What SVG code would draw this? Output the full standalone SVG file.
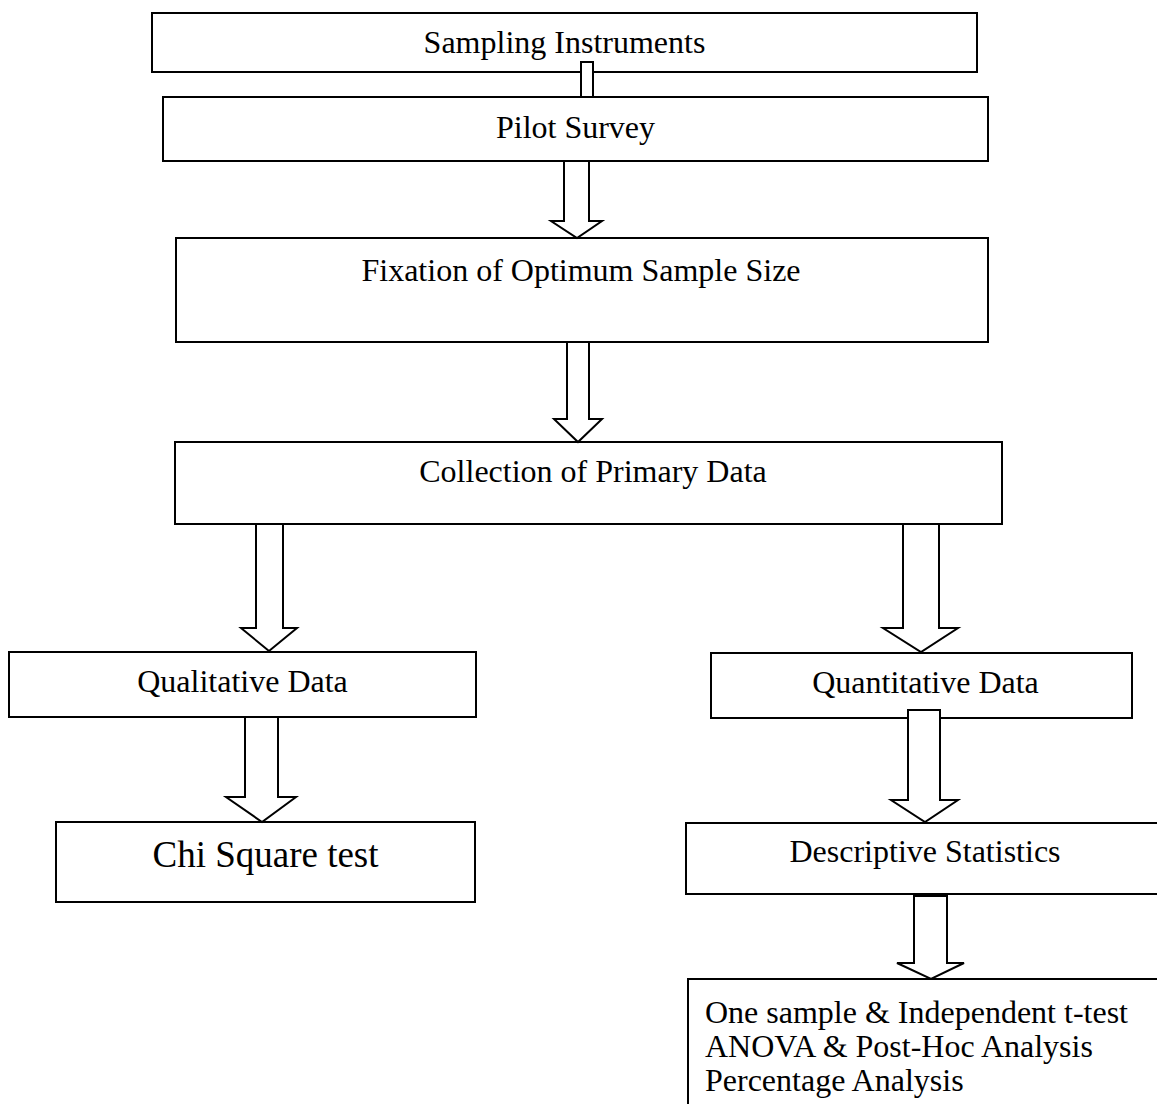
<svg xmlns="http://www.w3.org/2000/svg" width="1157" height="1104" viewBox="0 0 1157 1104">
<style>
.box{fill:#fff;stroke:#000;stroke-width:2}
.arr{fill:#fff;stroke:#000;stroke-width:2;stroke-linejoin:miter}
text{font-family:"Liberation Serif","Times New Roman",serif;font-size:32px;fill:#000}
.c{text-anchor:middle}
</style>
<rect width="1157" height="1104" fill="#fff"/>
<g id="sampling"><rect class="box" x="152" y="13" width="825" height="59"/><text class="c" x="564.5" y="53">Sampling Instruments</text></g>
<g id="pilot"><rect class="box" x="163" y="97" width="825" height="64"/><text class="c" x="575.5" y="138">Pilot Survey</text></g>
<g id="fixation"><rect class="box" x="176" y="238" width="812" height="104"/><text class="c" x="581" y="281">Fixation of Optimum Sample Size</text></g>
<g id="collection"><rect class="box" x="175" y="442" width="827" height="82"/><text class="c" x="593" y="482">Collection of Primary Data</text></g>
<g id="qualitative"><rect class="box" x="9" y="652" width="467" height="65"/><text class="c" x="242.5" y="692">Qualitative Data</text></g>
<g id="quantitative"><rect class="box" x="711" y="653" width="421" height="65"/><text class="c" x="925.5" y="693">Quantitative Data</text></g>
<g id="chi"><rect class="box" x="56" y="822" width="419" height="80"/><text class="c" x="265.5" y="867" style="font-size:37px">Chi Square test</text></g>
<g id="descriptive"><rect class="box" x="686" y="823" width="480" height="71"/><text class="c" x="925" y="862">Descriptive Statistics</text></g>
<g id="tests"><rect class="box" x="688" y="979" width="480" height="140"/>
<text x="705" y="1023">One sample &amp; Independent t-test</text>
<text x="705" y="1057">ANOVA &amp; Post-Hoc Analysis</text>
<text x="705" y="1091">Percentage Analysis</text></g>
<g id="connectors">
<rect class="arr" x="581" y="62" width="12" height="35"/>
<polygon class="arr" points="564,161 589,161 589,221 602,221 577,238 551,221 564,221"/>
<polygon class="arr" points="567,342 589,342 589,419 602,419 578,442 554,419 567,419"/>
<polygon class="arr" points="256,524 283,524 283,628 297,628 269,651 241,628 256,628"/>
<polygon class="arr" points="903,524 939,524 939,628 958,628 921,652 883,628 903,628"/>
<polygon class="arr" points="245,717 278,717 278,797 296,797 262,822 226,797 245,797"/>
<polygon class="arr" points="908,710 940,710 940,800 958,800 925,822 891,800 908,800"/>
<polygon class="arr" points="914,896 947,896 947,963 964,963 931,979 897,963 914,963"/>
</g>
</svg>
